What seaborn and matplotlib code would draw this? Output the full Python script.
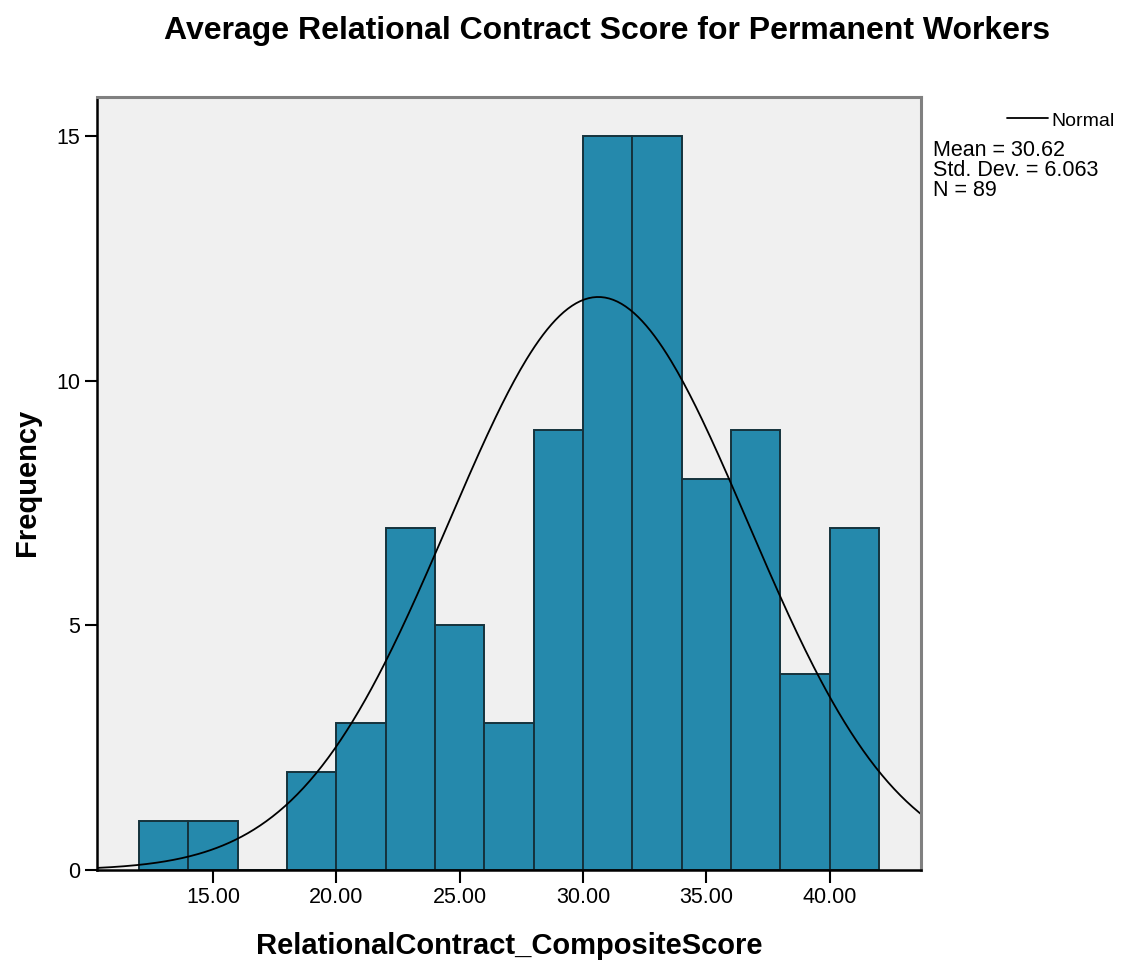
# plot.py - SPSS style histogram with normal curve
import seaborn as sns
import matplotlib.pyplot as plt
import numpy as np

# data
bin_edges = [12, 14, 16, 18, 20, 22, 24, 26, 28, 30, 32, 34, 36, 38, 40, 42]
counts = [1, 1, 0, 2, 3, 7, 5, 3, 9, 15, 15, 8, 9, 4, 7]
mean_val = 30.62
std_val = 6.063
n_obs = 89
x_ticks = [15, 20, 25, 30, 35, 40]
y_ticks = [0, 5, 10, 15]

bin_mids = [(a + b) / 2 for a, b in zip(bin_edges[:-1], bin_edges[1:])]

sns.set_style('white')
plt.rcParams['font.family'] = ['Liberation Sans', 'DejaVu Sans']
plt.rcParams['text.color'] = 'black'
plt.rcParams['axes.labelcolor'] = 'black'
plt.rcParams['xtick.color'] = 'black'
plt.rcParams['ytick.color'] = 'black'

fig = plt.figure(figsize=(11.23, 9.63), dpi=100)
ax = fig.add_axes([97 / 1123, 1 - 870 / 963, (921 - 97) / 1123, (870 - 97) / 963])
ax.set_facecolor('#F0F0F0')

sns.histplot(x=bin_mids, weights=counts, bins=bin_edges, ax=ax,
             color='#2589AC', alpha=1, edgecolor='#15323c', linewidth=1.4)

# normal curve scaled to counts
xs = np.linspace(10.3, 43.7, 400)
bw = bin_edges[1] - bin_edges[0]
ys = n_obs * bw * np.exp(-0.5 * ((xs - mean_val) / std_val) ** 2) / (std_val * np.sqrt(2 * np.pi))
sns.lineplot(x=xs, y=ys, ax=ax, color='black', linewidth=1.3)

ax.set_xlim(10.3, 43.7)
ax.set_ylim(0, 15.8)
ax.set_xticks(x_ticks)
ax.set_xticklabels([f'{t:.2f}' for t in x_ticks])
ax.set_yticks(y_ticks)
ax.tick_params(axis='both', which='both', direction='out', length=9, width=1.5,
               labelsize=15.5, pad=3, bottom=True, left=True)

for side in ['left', 'bottom']:
    ax.spines[side].set_color('black')
    ax.spines[side].set_linewidth(1.8)
for side in ['top', 'right']:
    ax.spines[side].set_color('#808080')
    ax.spines[side].set_linewidth(2.2)

ax.set_xlabel('RelationalContract_CompositeScore', fontsize=21, fontweight='bold')
ax.set_ylabel('Frequency', fontsize=21, fontweight='bold')
ax.xaxis.set_label_coords(0.5, (870 - 946) / 773)
ax.xaxis.label.set_va('center')
ax.yaxis.set_label_coords((27 - 97) / 824, 0.502)
ax.yaxis.label.set_va('center')

fig.suptitle('Average Relational Contract Score for Permanent Workers',
             fontsize=23, fontweight='bold', x=607 / 1123, y=1 - 31 / 963, va='center')

# legend and statistics box to the right of the plot
fig.add_artist(plt.Line2D([1007 / 1123, 1048 / 1123], [1 - 118 / 963, 1 - 118 / 963],
                          color='black', linewidth=1.3))
fig.text(1051 / 1123, 1 - 121 / 963, 'Normal', fontsize=14, va='center', ha='left')
fig.text(933 / 1123, 1 - 140 / 963,
         f'Mean = {mean_val:.2f}\nStd. Dev. = {std_val:.3f}\nN = {n_obs}',
         fontsize=15.5, va='top', ha='left', linespacing=0.93)

plt.savefig('out.png', dpi=100)
